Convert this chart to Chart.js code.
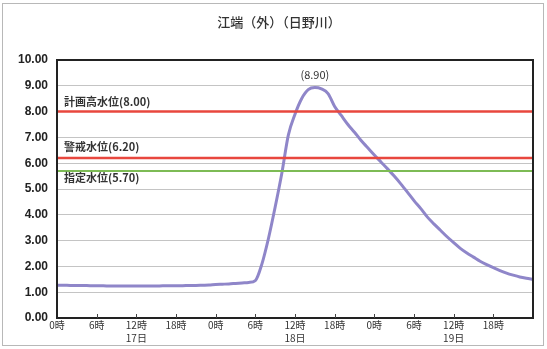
<!DOCTYPE html>
<html>
<head>
<meta charset="utf-8">
<script src="https://cdn.jsdelivr.net/npm/chart.js@4.4.0/dist/chart.umd.min.js"></script>
<style>
  html, body { margin: 0; padding: 0; background: #fff; }
  #wrap { width: 547px; height: 349px; position: relative; }
</style>
</head>
<body>
<div id="wrap"><canvas id="levelChart" width="547" height="349"></canvas></div>
<script>
// 時刻 (0〜72時間, 17日0時から)
const hours = Array.from({ length: 73 }, (_, i) => i);

// 目盛ラベル (6時間ごと)
const tickLabels = ['0時', '6時', ['12時', '17日'], '18時', '0時', '6時', ['12時', '18日'], '18時', '0時', '6時', ['12時', '19日'], '18時'];

// 水位 (m) 毎時
const waterLevel = [
  1.27, 1.27, 1.26, 1.26, 1.26, 1.25, 1.25, 1.25, 1.24, 1.24,
  1.24, 1.24, 1.24, 1.24, 1.24, 1.24, 1.25, 1.25, 1.25, 1.25,
  1.26, 1.26, 1.27, 1.28, 1.30, 1.31, 1.32, 1.34, 1.36, 1.38,
  1.45, 2.10, 3.10, 4.30, 5.60, 7.10, 7.90, 8.50, 8.85, 8.93,
  8.88, 8.70, 8.20, 7.85, 7.50, 7.20, 6.88, 6.60, 6.32, 6.05,
  5.78, 5.50, 5.20, 4.88, 4.55, 4.25, 3.92, 3.65, 3.40, 3.15,
  2.92, 2.70, 2.52, 2.36, 2.20, 2.07, 1.95, 1.84, 1.74, 1.66,
  1.59, 1.54, 1.50
];

// 基準水位
const planHigh = 8.00;   // 計画高水位
const warning = 6.20;    // 警戒水位
const designated = 5.70; // 指定水位
const peak = 8.90;

const flat = v => hours.map(() => v);

const textPlugin = {
  id: 'texts',
  afterDatasetsDraw(chart) {
    const { ctx, chartArea: a, scales: { x, y } } = chart;
    ctx.save();
    // 枠
    ctx.strokeStyle = '#222';
    ctx.lineWidth = 2;
    ctx.strokeRect(a.left, a.top, a.right - a.left, a.bottom - a.top);
    ctx.strokeStyle = '#b8b8b8';
    ctx.lineWidth = 1;
    ctx.strokeRect(2.5, 3.5, 541, 342);

    // 6時間ごとの目盛線 (内向き)
    ctx.strokeStyle = '#444';
    for (let i = 6; i < hours.length - 1; i += 6) {
      const px = Math.round(x.getPixelForValue(i)) + 0.5;
      ctx.beginPath();
      ctx.moveTo(px, a.bottom);
      ctx.lineTo(px, a.bottom - 4);
      ctx.stroke();
    }

    ctx.fillStyle = '#333';
    ctx.font = '500 13px "Noto Sans CJK JP"';
    ctx.textAlign = 'center';
    ctx.textBaseline = 'middle';
    ctx.fillText('江端（外）（日野川）', 279, 22);

    ctx.font = 'bold 11px "Noto Sans CJK JP"';
    ctx.textAlign = 'left';
    ctx.fillText('計画高水位(' + planHigh.toFixed(2) + ')', a.left + 7, y.getPixelForValue(planHigh) - 10);
    ctx.fillText('警戒水位(' + warning.toFixed(2) + ')', a.left + 7, y.getPixelForValue(warning) - 11);
    ctx.fillText('指定水位(' + designated.toFixed(2) + ')', a.left + 7, y.getPixelForValue(designated) + 7);

    const pi = waterLevel.indexOf(Math.max(...waterLevel));
    ctx.textAlign = 'center';
    ctx.font = '11px "Noto Sans CJK JP"';
    ctx.fillText('(' + peak.toFixed(2) + ')', x.getPixelForValue(pi), y.getPixelForValue(peak) - 14);
    ctx.restore();
  }
};

new Chart(document.getElementById('levelChart'), {
  type: 'line',
  data: {
    labels: hours,
    datasets: [
      { data: flat(planHigh), borderColor: '#e8473e', borderWidth: 2.5, pointRadius: 0 },
      { data: flat(warning), borderColor: '#e8473e', borderWidth: 2.5, pointRadius: 0 },
      { data: flat(designated), borderColor: '#7dbb55', borderWidth: 2, pointRadius: 0 },
      { data: waterLevel, borderColor: '#8f86c9', borderWidth: 3, pointRadius: 0, cubicInterpolationMode: 'monotone' }
    ]
  },
  options: {
    animation: false,
    responsive: false,
    layout: { padding: { left: 10, right: 14, top: 60, bottom: 0 } },
    plugins: { legend: { display: false }, title: { display: false }, tooltip: { enabled: false } },
    scales: {
      x: {
        grid: { display: false, drawTicks: false },
        border: { display: false },
        afterFit: s => { s.height = 31; },
        ticks: {
          autoSkip: false,
          maxRotation: 0,
          padding: 1,
          color: '#333',
          font: { size: 10, family: '"Noto Sans CJK JP"', lineHeight: 1.25 },
          callback: (v, i) => (i % 6 === 0 ? tickLabels[i / 6] : null)
        }
      },
      y: {
        min: 0,
        max: 10,
        border: { display: false },
        grid: { color: '#c4c4c4', lineWidth: 1, drawTicks: false },
        afterFit: s => { s.width = 47; },
        ticks: {
          stepSize: 1,
          padding: 9,
          color: '#222',
          font: { size: 12, family: '"Liberation Sans"', weight: 'bold' },
          callback: v => v.toFixed(2)
        }
      }
    }
  },
  plugins: [textPlugin]
});
</script>
</body>
</html>
